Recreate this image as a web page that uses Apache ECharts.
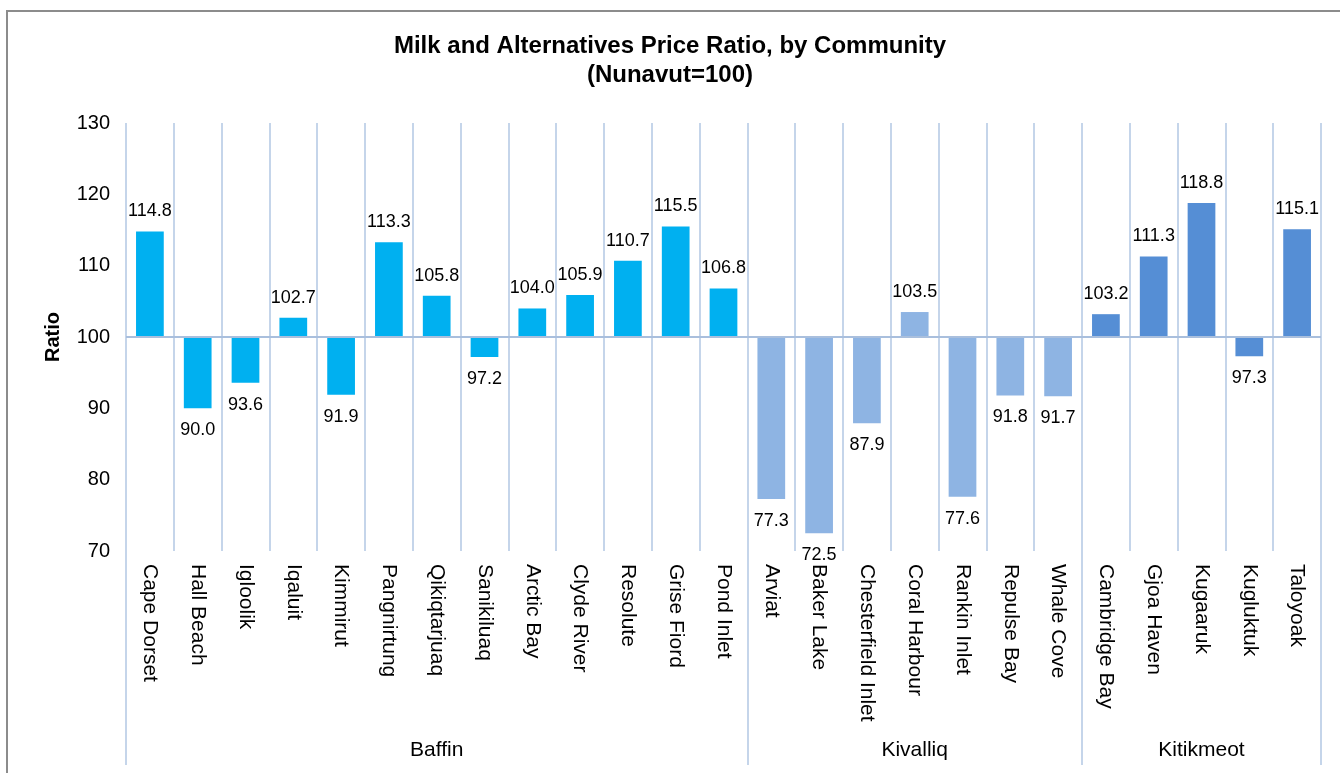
<!DOCTYPE html>
<html>
<head>
<meta charset="utf-8">
<title>Milk and Alternatives Price Ratio</title>
<script src="https://cdn.jsdelivr.net/npm/echarts@6/dist/echarts.min.js"></script>
<style>
    html, body { margin: 0; padding: 0; background: #fff; overflow: hidden; }
    #chart { width: 1340px; height: 773px; }
    #frame { position: absolute; left: 6px; top: 10px; width: 1400px; height: 800px;
             border-left: 2px solid #8c8c8c; border-top: 2px solid #8c8c8c; pointer-events: none; }
</style>
</head>
<body>
<div id="chart"></div>
<div id="frame"></div>
<script>
var communities = [
    'Cape Dorset', 'Hall Beach', 'Igloolik', 'Iqaluit', 'Kimmirut', 'Pangnirtung', 'Qikiqtarjuaq',
    'Sanikiluaq', 'Arctic Bay', 'Clyde River', 'Resolute', 'Grise Fiord', 'Pond Inlet',
    'Arviat', 'Baker Lake', 'Chesterfield Inlet', 'Coral Harbour', 'Rankin Inlet', 'Repulse Bay', 'Whale Cove',
    'Cambridge Bay', 'Gjoa Haven', 'Kugaaruk', 'Kugluktuk', 'Taloyoak'
];
var ratios = [
    114.8, 90.0, 93.6, 102.7, 91.9, 113.3, 105.8, 97.2, 104.0, 105.9, 110.7, 115.5, 106.8,
    77.3, 72.5, 87.9, 103.5, 77.6, 91.8, 91.7,
    103.2, 111.3, 118.8, 97.3, 115.1
];
var regions = ['Baffin', 'Kivalliq', 'Kitikmeot'];
var regionSizes = [13, 7, 5];
var regionColors = ['#00B0F0', '#8EB4E3', '#558ED5'];
var baseline = 100;
var yTicks = [70, 80, 90, 100, 110, 120, 130];

var gridColor = '#C5D5EA';
var fontFamily = 'Liberation Sans, Arial, sans-serif';

// region boundaries and centres on a 0..25 scale
var bounds = [0];
var centres = [];
var regionOf = [];
for (var r = 0; r < regionSizes.length; r++) {
    centres.push(bounds[r] + regionSizes[r] / 2);
    bounds.push(bounds[r] + regionSizes[r]);
    for (var k = 0; k < regionSizes[r]; k++) regionOf.push(r);
}

var barData = ratios.map(function (v, i) {
    var up = v >= baseline;
    return {
        value: +(v - baseline).toFixed(1),
        itemStyle: { color: regionColors[regionOf[i]] },
        label: { position: up ? 'top' : 'bottom', distance: up ? 11 : 13 }
    };
});

var chart = echarts.init(document.getElementById('chart'));
var option = {
    animation: false,
    title: {
        text: 'Milk and Alternatives Price Ratio, by Community\n(Nunavut=100)',
        left: 'center',
        top: 27,
        textStyle: { fontFamily: fontFamily, fontSize: 24, fontWeight: 'bold', color: '#000', lineHeight: 29 }
    },
    grid: { left: 126, right: 19, top: 123, height: 428, containLabel: false },
    xAxis: [
        {
            type: 'category',
            data: communities,
            boundaryGap: true,
            axisLine: { show: false },
            axisTick: { show: true, length: 176, lineStyle: { color: gridColor, width: 2 } },
            splitLine: { show: true, lineStyle: { color: gridColor, width: 2 } },
            axisLabel: {
                interval: 0,
                rotate: -90,
                margin: 13,
                fontFamily: fontFamily,
                fontSize: 21,
                color: '#000'
            }
        },
        {
            type: 'value',
            min: 0,
            max: communities.length,
            position: 'bottom',
            axisLine: { show: false },
            splitLine: { show: false },
            axisTick: { show: true, length: 214, customValues: bounds, lineStyle: { color: gridColor, width: 2 } },
            axisLabel: {
                customValues: centres,
                margin: 189,
                fontFamily: fontFamily,
                fontSize: 21,
                color: '#000',
                formatter: function (v) {
                    return regions[centres.indexOf(v)];
                }
            }
        }
    ],
    yAxis: {
        type: 'value',
        min: yTicks[0] - baseline,
        max: yTicks[yTicks.length - 1] - baseline,
        interval: 10,
        name: 'Ratio',
        nameLocation: 'middle',
        nameRotate: 90,
        nameGap: 63,
        nameTextStyle: { fontFamily: fontFamily, fontSize: 20, fontWeight: 'bold', color: '#000' },
        axisLine: { show: false },
        axisTick: { show: false },
        splitLine: { show: false },
        axisLabel: {
            margin: 16,
            fontFamily: fontFamily,
            fontSize: 20,
            color: '#000',
            formatter: function (v) { return v + baseline; }
        }
    },
    series: [
        {
            type: 'bar',
            xAxisIndex: 0,
            data: barData,
            barWidth: '58%',
            label: {
                show: true,
                fontFamily: fontFamily,
                fontSize: 18,
                color: '#000',
                formatter: function (p) { return ratios[p.dataIndex].toFixed(1); }
            },
            markLine: {
                silent: true,
                symbol: 'none',
                label: { show: false },
                lineStyle: { color: '#A9BFDD', width: 2, type: 'solid' },
                data: [{ yAxis: 0 }]
            }
        }
    ]
};
chart.setOption(option);
</script>
</body>
</html>
